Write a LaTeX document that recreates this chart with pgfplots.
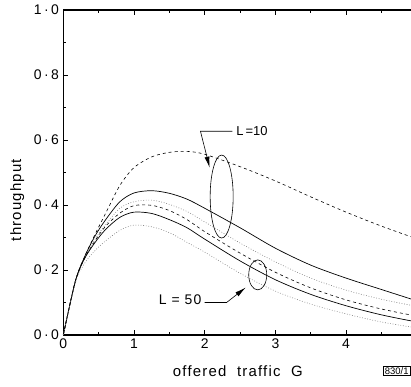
\documentclass[border=0pt]{standalone}
\usepackage{fontspec}
\setmainfont{Liberation Sans}
\newfontfamily\lbl[LetterSpace=8]{Liberation Sans}
\usepackage{pgfplots}
\pgfplotsset{compat=1.18}
\usetikzlibrary{arrows.meta}

\pgfplotstableread{
G     a      b      c      d      e      f
0     0      0      0      0      0      0
0.17  0.165  0.165  0.165  0.165  0.165  0.160
0.3   0.240  0.240  0.235  0.235  0.235  0.220
0.45  0.310  0.305  0.295  0.290  0.285  0.260
0.6   0.375  0.355  0.340  0.335  0.325  0.290
0.8   0.460  0.410  0.390  0.375  0.362  0.322
1.0   0.515  0.437  0.410  0.398  0.378  0.338
1.25  0.548  0.444  0.415  0.399  0.374  0.333
1.5   0.562  0.436  0.402  0.383  0.355  0.315
1.75  0.565  0.418  0.380  0.355  0.330  0.285
2.0   0.556  0.390  0.348  0.318  0.295  0.255
2.5   0.518  0.330  0.283  0.252  0.228  0.190
3.0   0.474  0.267  0.225  0.193  0.170  0.135
3.5   0.425  0.215  0.175  0.145  0.125  0.095
4.0   0.378  0.175  0.138  0.108  0.090  0.065
4.5   0.335  0.140  0.110  0.080  0.062  0.040
5.0   0.296  0.105  0.088  0.058  0.040  0.022
}\datatable

\begin{document}
\begin{tikzpicture}
\useasboundingbox (-63.3bp,-52bp) rectangle (347.7bp,335bp);
\begin{axis}[
  at={(0,0)}, anchor=south west,
  scale only axis, width=353.5bp, height=325bp,
  xmin=0, xmax=5, ymin=0, ymax=1,
  clip=false,
  xtick={0,1,2,3,4}, xticklabels={0,1,2,3,4},
  minor xtick={0.5,1.5,2.5,3.5,4.5},
  ytick={0,0.2,0.4,0.6,0.8,1},
  yticklabels={0\,·\,0,0\,·\,2,0\,·\,4,0\,·\,6,0\,·\,8,1\,·\,0},
  minor ytick={0.1,0.3,0.5,0.7,0.9},
  tick align=inside,
  major tick length=5bp, minor tick length=3bp,
  axis line style={line width=1.1pt},
  tick style={black, line width=0.6pt},
  ticklabel style={font=\fontsize{14}{16}\selectfont},
  yticklabel style={xshift=-1bp},
  xlabel={offered\ \ traffic\ \ G},
  ylabel={throughput},
  label style={font=\lbl\fontsize{15}{17}\selectfont},
  xlabel style={at={(axis description cs:0.494,-0.085)}, anchor=north},
  ylabel style={at={(axis description cs:-0.13,0.415)}, anchor=center},
]
\addplot[black, line width=0.6pt, dash pattern=on 3bp off 3bp, smooth] table[x=G,y=a] {\datatable};
\addplot[black, line width=0.7pt, smooth] table[x=G,y=b] {\datatable};
\addplot[gray, line width=0.6pt, dash pattern=on 0.8bp off 1.8bp, smooth] table[x=G,y=c] {\datatable};
\addplot[black, line width=0.6pt, dash pattern=on 3bp off 3bp, smooth] table[x=G,y=d] {\datatable};
\addplot[black, line width=0.7pt, smooth] table[x=G,y=e] {\datatable};
\addplot[gray, line width=0.6pt, dash pattern=on 0.8bp off 1.8bp, smooth] table[x=G,y=f] {\datatable};

\draw[line width=0.6pt] (axis cs:2.24,0.426) ellipse [x radius=11.5bp, y radius=41.5bp];
\draw[line width=0.6pt] (axis cs:2.75,0.185) ellipse [x radius=9bp, y radius=15bp];

\draw[line width=0.6pt, -{Latex[length=11bp,width=5bp]}] (axis cs:2.39,0.627) -- (axis cs:1.94,0.627) -- (axis cs:2.07,0.515);
\node[anchor=west, inner sep=1bp, font=\fontsize{13}{15}\selectfont] at (axis cs:2.43,0.628) {L\,=10};

\draw[line width=0.6pt, -{Latex[length=11bp,width=5bp]}] (axis cs:2.0,0.1) -- (axis cs:2.31,0.1) -- (axis cs:2.58,0.146);
\node[anchor=east, inner sep=1bp, font=\lbl\fontsize{14}{16}\selectfont] at (axis cs:1.97,0.108) {L = 50};
\end{axis}
\node[draw, line width=0.6pt, anchor=west, inner sep=1.3bp, font=\fontsize{9.5}{11}\selectfont] at (320bp,-36bp) {830/1};
\end{tikzpicture}
\end{document}
